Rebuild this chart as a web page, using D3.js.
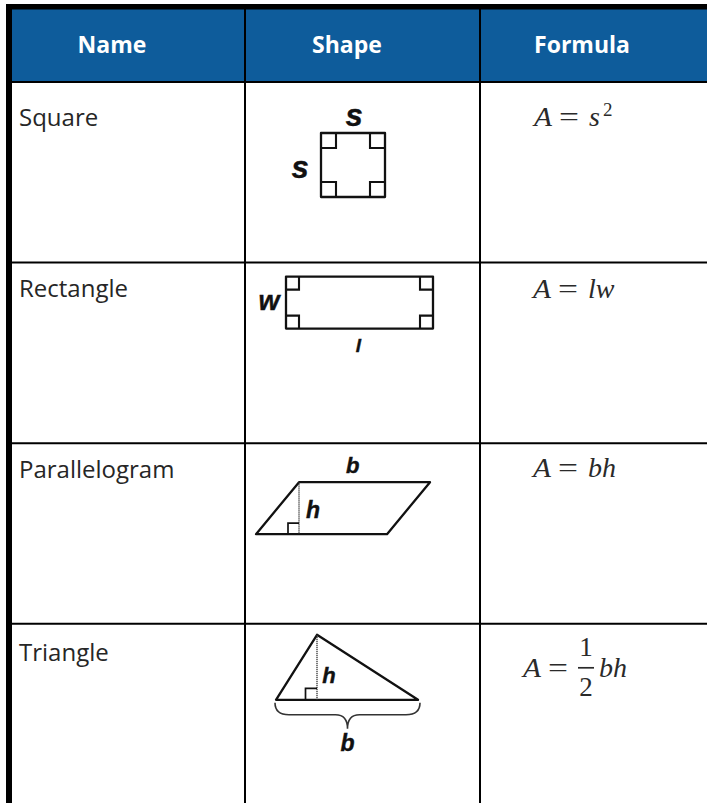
<!DOCTYPE html>
<html>
<head>
<meta charset="utf-8">
<script src="https://cdn.jsdelivr.net/npm/d3@7"></script>
<style>
  html, body { margin: 0; padding: 0; background: #fff; }
  svg { display: block; }
</style>
</head>
<body>
<div id="chart"></div>
<script>
// table content
const headers = ['Name', 'Shape', 'Formula'];
const shapeNames = ['Square', 'Rectangle', 'Parallelogram', 'Triangle'];

// shape dimensions (px units): width, height, slant / apex offset
const shapeKinds = ['square', 'rectangle', 'parallelogram', 'triangle'];
const shapeBase = [64, 147, 131, 142];
const shapeHeight = [64, 52, 52, 65];
const shapeOffset = [0, 0, 43, 41];

// formulas: left side, right side, optional superscript / fraction
const formulaLhs = ['A', 'A', 'A', 'A'];
const formulaRhs = ['s', 'lw', 'bh', 'bh'];
const formulaSup = ['2', null, null, null];
const formulaFrac = [null, null, null, ['1', '2']];

// shape labels per row
const shapeLabels = [
    [{ t: 's', k: 'top' }, { t: 's', k: 'left' }],
    [{ t: 'w', k: 'left' }, { t: 'l', k: 'bottom' }],
    [{ t: 'b', k: 'top' }, { t: 'h', k: 'height' }],
    [{ t: 'h', k: 'height' }, { t: 'b', k: 'brace' }]
];

const W = 707, H = 803;
const colX = [12, 245, 480, W];
const headerTop = 9, headerBottom = 82;
const rowStep = 180.6;

const svg = d3.select('#chart').append('svg')
    .attr('width', W)
    .attr('height', H);

const rowY = d3.scaleLinear().domain([0, 1]).range([headerBottom, headerBottom + rowStep]);
const px = d3.scaleLinear().domain([0, 1]).range([0, 1]);

// header band
svg.append('rect')
    .attr('x', colX[0]).attr('y', headerTop)
    .attr('width', W - colX[0]).attr('height', headerBottom - headerTop)
    .attr('fill', '#0e5c9b');

const headerCenters = [112, 347, 582];
svg.selectAll('text.header')
    .data(headers)
    .enter()
    .append('text')
    .attr('class', 'header')
    .attr('x', (d, i) => headerCenters[i])
    .attr('y', 53)
    .attr('text-anchor', 'middle')
    .style('font-family', '"Open Sans", sans-serif')
    .style('font-weight', 'bold')
    .style('font-size', '23px')
    .style('fill', '#fff')
    .text(d => d);

// grid lines
const grid = svg.append('g').attr('stroke', '#000').attr('stroke-width', 2);
grid.selectAll('line.row')
    .data(d3.range(shapeNames.length))
    .enter()
    .append('line')
    .attr('x1', colX[0]).attr('x2', W)
    .attr('y1', i => rowY(i)).attr('y2', i => rowY(i));
grid.selectAll('line.col')
    .data([colX[1], colX[2]])
    .enter()
    .append('line')
    .attr('x1', d => d).attr('x2', d => d)
    .attr('y1', headerTop).attr('y2', H);

// thick outer border (top + left)
svg.append('rect').attr('x', 6).attr('y', 4).attr('width', W - 6).attr('height', 5.5).attr('fill', '#000');
svg.append('rect').attr('x', 6).attr('y', 4).attr('width', 6).attr('height', H - 4).attr('fill', '#000');

// names column
const nameDy = [44, 34, 35, 37];
svg.selectAll('text.name')
    .data(shapeNames)
    .enter()
    .append('text')
    .attr('class', 'name')
    .attr('x', 19)
    .attr('y', (d, i) => rowY(i) + nameDy[i])
    .style('font-family', '"Open Sans", sans-serif')
    .style('font-size', '24px')
    .style('fill', '#262626')
    .text(d => d);

// shapes
const shapeAnchor = [[321, 51], [286, 14], [256, 39], [276, 11]]; // left x, top offset within row
const stroke = '#111';

function outline(g, pts) {
    g.append('path')
        .attr('d', d3.line()(pts) + 'Z')
        .attr('fill', 'none')
        .attr('stroke', stroke)
        .attr('stroke-width', 2.3)
        .attr('stroke-linejoin', 'round');
}

function cornerBoxes(g, x0, y0, w, h, s) {
    const corners = [[x0, y0, 1, 1], [x0 + w, y0, -1, 1], [x0, y0 + h, 1, -1], [x0 + w, y0 + h, -1, -1]];
    corners.forEach(([cx, cy, sx, sy]) => {
        g.append('path')
            .attr('d', d3.line()([[cx + sx * s, cy], [cx + sx * s, cy + sy * s], [cx, cy + sy * s]]))
            .attr('fill', 'none').attr('stroke', stroke).attr('stroke-width', 2.1);
    });
}

function rightAngle(g, x, y, s) {
    g.append('path')
        .attr('d', d3.line()([[x - s, y], [x - s, y - s], [x, y - s]]))
        .attr('fill', 'none').attr('stroke', stroke).attr('stroke-width', 1.7);
}

function heightLine(g, x, y1, y2) {
    g.append('line')
        .attr('x1', x).attr('x2', x).attr('y1', y1).attr('y2', y2)
        .attr('stroke', '#333').attr('stroke-width', 1.3)
        .attr('stroke-dasharray', '1.2,0.8');
}

function label(g, t, x, y, size) {
    g.append('text')
        .attr('x', x).attr('y', y)
        .attr('text-anchor', 'middle')
        .style('font-family', '"Liberation Sans", Arial, sans-serif')
        .style('font-weight', 'bold')
        .style('font-style', 'italic')
        .style('font-size', size + 'px')
        .style('fill', '#111')
        .style('stroke', '#111')
        .style('stroke-width', 0.4)
        .text(t);
}

shapeKinds.forEach((kind, i) => {
    const g = svg.append('g').attr('class', 'shape-' + kind);
    const x0 = shapeAnchor[i][0];
    const y0 = rowY(i) + shapeAnchor[i][1];
    const b = px(shapeBase[i]), h = px(shapeHeight[i]), o = px(shapeOffset[i]);
    const labs = shapeLabels[i];

    if (kind === 'square' || kind === 'rectangle') {
        outline(g, [[x0, y0], [x0 + b, y0], [x0 + b, y0 + h], [x0, y0 + h]]);
        cornerBoxes(g, x0, y0, b, h, kind === 'square' ? 15 : 13);
        if (kind === 'square') {
            label(g, labs[0].t, x0 + b / 2 + 1, y0 - 7, 31);
            label(g, labs[1].t, x0 - 21, y0 + h / 2 + 13, 31);
        } else {
            label(g, labs[0].t, x0 - 17, y0 + h / 2 + 7, 27);
            label(g, labs[1].t, x0 + b / 2 - 1, y0 + h + 23, 19);
        }
    } else if (kind === 'parallelogram') {
        const yb = y0 + h;
        outline(g, [[x0 + o, y0], [x0 + o + b, y0], [x0 + b, yb], [x0, yb]]);
        heightLine(g, x0 + o, y0, yb);
        rightAngle(g, x0 + o, yb, 11);
        label(g, labs[0].t, x0 + o + b * 0.41, y0 - 9, 22);
        label(g, labs[1].t, x0 + o + 14, y0 + 36, 23);
    } else {
        const yb = y0 + h;
        outline(g, [[x0, yb], [x0 + o, y0], [x0 + b, yb]]);
        heightLine(g, x0 + o, y0, yb);
        rightAngle(g, x0 + o, yb, 11.5);
        label(g, labs[0].t, x0 + o + 12, y0 + 48, 22);
        // brace under the base
        const xl = x0 - 1, xr = x0 + b + 2, xm = (xl + xr) / 2, yt = yb + 3, yc = yb + 15, ytip = yb + 29;
        g.append('path')
            .attr('d', `M${xl},${yt} Q${xl},${yc} ${xl + 14},${yc} L${xm - 12},${yc} Q${xm},${yc} ${xm},${ytip}` +
                       ` Q${xm},${yc} ${xm + 12},${yc} L${xr - 14},${yc} Q${xr},${yc} ${xr},${yt}`)
            .attr('fill', 'none').attr('stroke', '#333').attr('stroke-width', 1.6);
        label(g, labs[1].t, xm, ytip + 22, 23);
    }
});

// formulas
const mathFont = '"Liberation Serif", "DejaVu Serif", serif';
const mathColor = '#2a2a2a';
const formulaX = [534, 533, 533, 523];
const formulaDy = [44, 35, 34, 53];

function mtext(g, t, x, y, size, italic, anchor) {
    return g.append('text')
        .attr('x', x).attr('y', y)
        .attr('text-anchor', anchor || 'start')
        .style('font-family', mathFont)
        .style('font-style', italic ? 'italic' : 'normal')
        .style('font-size', size + 'px')
        .style('fill', mathColor)
        .text(t);
}

formulaLhs.forEach((lhs, i) => {
    const g = svg.append('g').attr('class', 'formula');
    const x = formulaX[i];
    const y = rowY(i) + formulaDy[i];
    mtext(g, lhs, x, y, 28, true).attr('textLength', 18).attr('lengthAdjust', 'spacingAndGlyphs');
    mtext(g, '=', x + 25, y, 28, false).attr('textLength', 20).attr('lengthAdjust', 'spacingAndGlyphs');
    let xr = x + 55;
    if (formulaFrac[i]) {
        const [num, den] = formulaFrac[i];
        const fx = xr;
        g.append('line')
            .attr('x1', fx).attr('x2', fx + 16)
            .attr('y1', y - 9).attr('y2', y - 9)
            .attr('stroke', mathColor).attr('stroke-width', 1.7);
        mtext(g, num, fx + 8, y - 21, 27, false, 'middle');
        mtext(g, den, fx + 8, y + 19, 27, false, 'middle');
        xr = fx + 21;
    }
    mtext(g, formulaRhs[i], xr, y, 28, true);
    if (formulaSup[i]) {
        mtext(g, formulaSup[i], xr + 14, y - 10, 19, false);
    }
});
</script>
</body>
</html>
